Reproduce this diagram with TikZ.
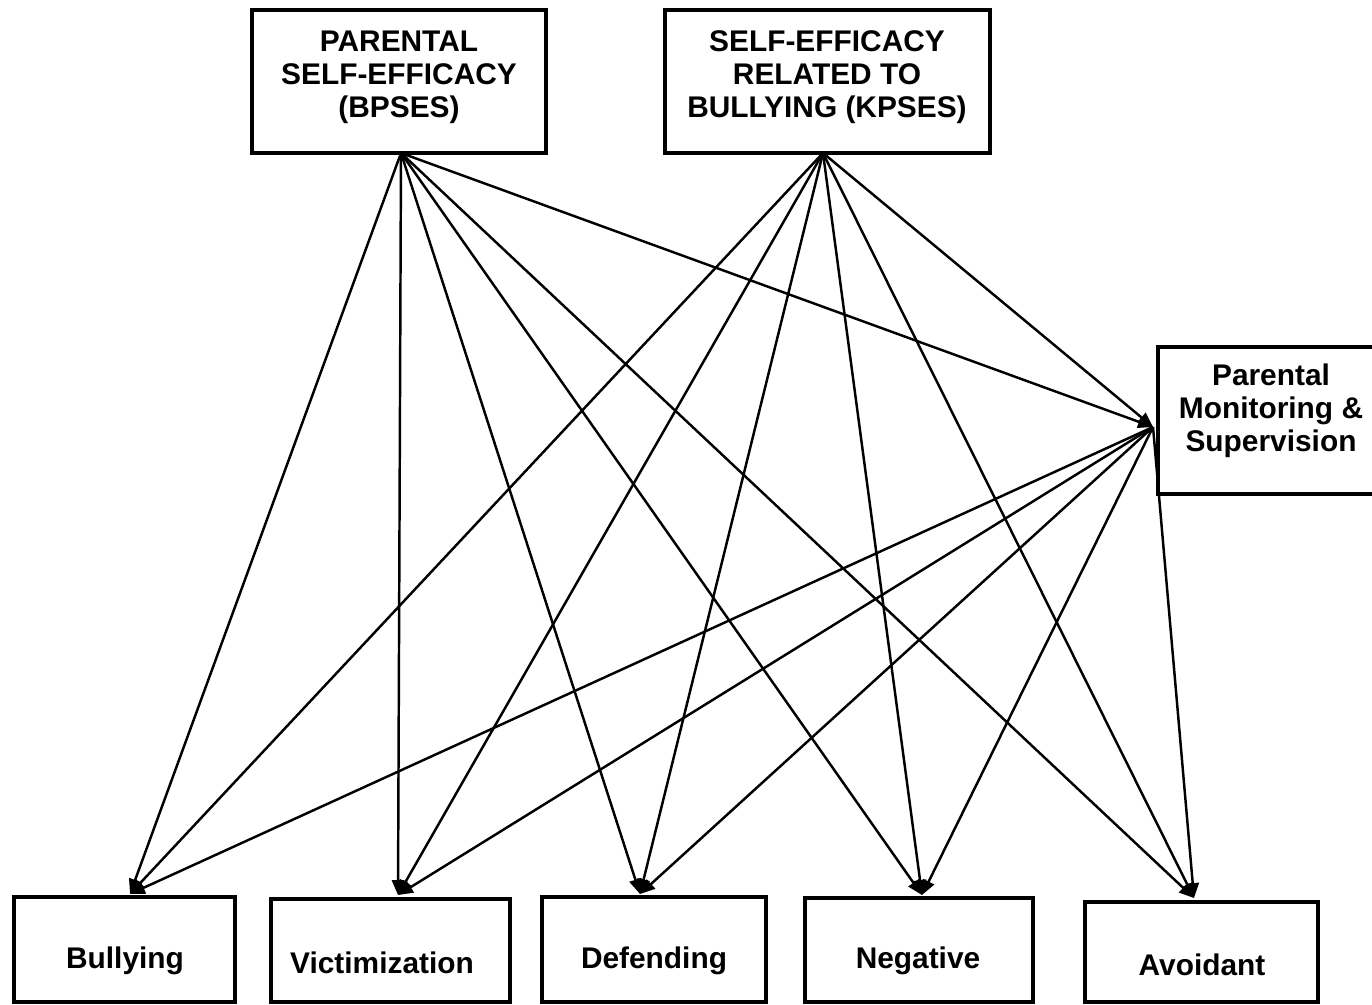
\documentclass[tikz,border=0pt]{standalone}
\usepackage{fontspec}
\setmainfont{Liberation Sans}
\usetikzlibrary{arrows.meta,fit}
\begin{document}
\begin{tikzpicture}[x=0.02cm,y=-0.02cm,
  box/.style={draw, line width=2.8pt, inner sep=0pt},
  lbl/.style={font=\fontsize{17}{18.8}\selectfont\bfseries, align=center, inner sep=0pt},
  arr/.style={line width=1.4pt, -{Triangle[length=8.5pt,width=7pt]}}]
\clip (0,0) rectangle (1372,1004);
\fill[white] (0,0) rectangle (1372,1004);
% top boxes
\node[box, fit={(252,10) (546,153)}] (A) {};
\node[lbl] (At) at (399,77) {PARENTAL\\SELF-EFFICACY\\(BPSES)};
\node[box, fit={(665,10) (990,153)}] (B) {};
\node[lbl] (Bt) at (827,77) {SELF-EFFICACY\\RELATED TO\\BULLYING (KPSES)};
% right box
\node[box, fit={(1158,347) (1400,494)}] (C) {};
\node[lbl] (Ct) at (1271,411) {Parental\\Monitoring \&\\Supervision};
% bottom boxes
\node[box, fit={(14,897) (235,1002)}] (bul) {};
\node[lbl] (bult) at (125,961) {Bullying};
\node[box, fit={(271,899) (510,1002)}] (vic) {};
\node[lbl] (vict) at (382,963) {Victimization};
\node[box, fit={(542,897) (766,1002)}] (def) {};
\node[lbl] (deft) at (654,961) {Defending};
\node[box, fit={(805,898) (1033,1002)}] (neg) {};
\node[lbl] (negt) at (918,961) {Negative};
\node[box, fit={(1085,902) (1318,1002)}] (avo) {};
\node[lbl] (avot) at (1202,965) {Avoidant};
% connector points
\coordinate (sA) at (401,153);
\coordinate (sB) at (823,153);
\coordinate (pC) at (1153,427);
\coordinate (tbul) at (130,894);
\coordinate (tvic) at (398,895);
\coordinate (tdef) at (640,894);
\coordinate (tneg) at (922,895);
\coordinate (tavo) at (1194,898);
% arrows from A
\draw[arr] (sA) -- (tbul);
\draw[arr] (sA) -- (tvic);
\draw[arr] (sA) -- (tdef);
\draw[arr] (sA) -- (tneg);
\draw[arr] (sA) -- (tavo);
\draw[arr] (sA) -- (pC);
% arrows from B
\draw[arr] (sB) -- (tbul);
\draw[arr] (sB) -- (tvic);
\draw[arr] (sB) -- (tdef);
\draw[arr] (sB) -- (tneg);
\draw[arr] (sB) -- (tavo);
\draw[arr] (sB) -- (pC);
% arrows from C
\draw[arr] (pC) -- (tbul);
\draw[arr] (pC) -- (tvic);
\draw[arr] (pC) -- (tdef);
\draw[arr] (pC) -- (tneg);
\draw[arr] (pC) -- (tavo);
\end{tikzpicture}
\end{document}
